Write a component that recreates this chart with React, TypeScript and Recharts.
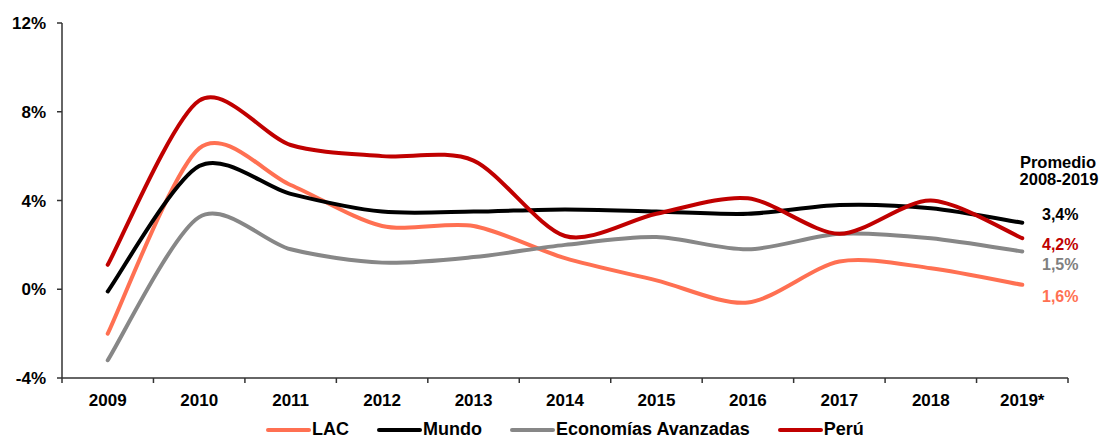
import { LineChart, Line, XAxis, YAxis, Legend } from "recharts";

const years = ["2009", "2010", "2011", "2012", "2013", "2014", "2015", "2016", "2017", "2018", "2019*"];
const lac = [-2.0, 6.35, 4.7, 2.85, 2.85, 1.4, 0.4, -0.6, 1.25, 0.95, 0.2];
const mundo = [-0.1, 5.55, 4.3, 3.5, 3.5, 3.6, 3.5, 3.4, 3.8, 3.65, 3.0];
const avanzadas = [-3.2, 3.25, 1.8, 1.2, 1.45, 2.0, 2.35, 1.8, 2.5, 2.3, 1.7];
const peru = [1.1, 8.5, 6.5, 6.0, 5.8, 2.4, 3.4, 4.1, 2.5, 4.0, 2.3];

const yTicks = [-4, 0, 4, 8, 12];

const series = [
  { key: "lac", name: "LAC", color: "#FF7052" },
  { key: "mundo", name: "Mundo", color: "#000000" },
  { key: "avanzadas", name: "Economías Avanzadas", color: "#878787" },
  { key: "peru", name: "Perú", color: "#C00000" },
];

// promedio 2008-2019 (texto a la derecha)
const promedioTitle = ["Promedio", "2008-2019"];
const promedios = [
  { label: "3,4%", color: "#000000" },
  { label: "4,2%", color: "#C00000" },
  { label: "1,5%", color: "#7F7F7F" },
  { label: "1,6%", color: "#FF7052" },
];

const data = years.map((y, i) => ({
  year: y,
  lac: lac[i],
  mundo: mundo[i],
  avanzadas: avanzadas[i],
  peru: peru[i],
}));

const FONT = "'Liberation Sans', Arial, sans-serif";

// excel-like smoothing (catmull-rom style, a bit less tension)
function excelCurve(context: any) {
  let pts: number[][] = [];
  const k = 7;
  return {
    areaStart() {},
    areaEnd() {},
    lineStart() {
      pts = [];
    },
    point(x: number, y: number) {
      pts.push([+x, +y]);
    },
    lineEnd() {
      const n = pts.length;
      if (!n) return;
      context.moveTo(pts[0][0], pts[0][1]);
      for (let i = 0; i < n - 1; i++) {
        const p0 = pts[i - 1] || pts[i];
        const p1 = pts[i];
        const p2 = pts[i + 1];
        const p3 = pts[i + 2] || p2;
        context.bezierCurveTo(
          p1[0] + (p2[0] - p0[0]) / k,
          p1[1] + (p2[1] - p0[1]) / k,
          p2[0] - (p3[0] - p1[0]) / k,
          p2[1] - (p3[1] - p1[1]) / k,
          p2[0],
          p2[1]
        );
      }
    },
  };
}

function YearTick(props: any) {
  const { x, y, payload, width, visibleTicksCount, index } = props;
  const half = payload.offset || width / visibleTicksCount / 2;
  const last = index === visibleTicksCount - 1;
  return (
    <g>
      <line x1={x - half} x2={x - half} y1={y} y2={y + 5} stroke="#333" strokeWidth={1.5} />
      {last && <line x1={x + half} x2={x + half} y1={y} y2={y + 5} stroke="#333" strokeWidth={1.5} />}
      <text x={x} y={y + 28} textAnchor="middle" fontSize={17} fontWeight="bold" fill="#000" fontFamily={FONT}>
        {payload.value}
      </text>
    </g>
  );
}

function LegendContent() {
  return (
    <div
      style={{
        display: "flex",
        justifyContent: "center",
        alignItems: "center",
        fontFamily: FONT,
        height: 24,
        paddingTop: 5,
        boxSizing: "border-box",
      }}
    >
      {series.map((s, i) => (
        <div key={s.key} style={{ display: "flex", alignItems: "center", marginLeft: i ? 28 : 0 }}>
          <svg width={45} height={8}>
            <line x1={2} x2={43} y1={4} y2={4} stroke={s.color} strokeWidth={4} strokeLinecap="round" />
          </svg>
          <span style={{ fontSize: 18, fontWeight: "bold", color: "#000", marginLeft: 1 }}>{s.name}</span>
        </div>
      ))}
    </div>
  );
}

export default function App() {
  return (
    <div style={{ position: "absolute", left: 0, top: 0, width: 1102, height: 439, background: "#fff" }}>
      <LineChart width={1102} height={439} data={data} margin={{ top: 23, right: 34, left: 0, bottom: 0 }}>
        <XAxis
          dataKey="year"
          scale="band"
          tickLine={false}
          tickSize={0}
          tickMargin={0}
          interval={0}
          height={37}
          axisLine={{ stroke: "#333", strokeWidth: 1.5 }}
          tick={<YearTick />}
        />
        <YAxis
          type="number"
          domain={[-4, 12]}
          ticks={yTicks}
          width={62}
          tickSize={5}
          tickMargin={11}
          tickFormatter={(v) => `${v}%`}
          axisLine={{ stroke: "#333", strokeWidth: 1.5 }}
          tickLine={{ stroke: "#333", strokeWidth: 1.5 }}
          tick={{ fill: "#000", fontSize: 17, fontWeight: "bold", fontFamily: FONT }}
        />
        <Legend
          verticalAlign="bottom"
          height={24}
          content={<LegendContent />}
          wrapperStyle={{ left: 62, width: 1006 }}
        />
        {series.map((s) => (
          <Line
            key={s.key}
            dataKey={s.key}
            name={s.name}
            stroke={s.color}
            strokeWidth={4}
            strokeLinecap="round"
            type={excelCurve as any}
            dot={false}
            activeDot={false}
            isAnimationActive={false}
          />
        ))}
      </LineChart>
      <svg
        width={1102}
        height={439}
        style={{ position: "absolute", left: 0, top: 0, pointerEvents: "none" }}
        fontFamily={FONT}
        fontWeight="bold"
      >
        <text x={1058} y={168} textAnchor="middle" fontSize={16.5} fill="#000">
          {promedioTitle[0]}
        </text>
        <text x={1059} y={185} textAnchor="middle" fontSize={16.5} fill="#000">
          {promedioTitle[1]}
        </text>
        {promedios.map((p, i) => (
          <text key={p.label} x={1042} y={[220, 250, 270, 302][i]} fontSize={16} fill={p.color}>
            {p.label}
          </text>
        ))}
      </svg>
    </div>
  );
}
